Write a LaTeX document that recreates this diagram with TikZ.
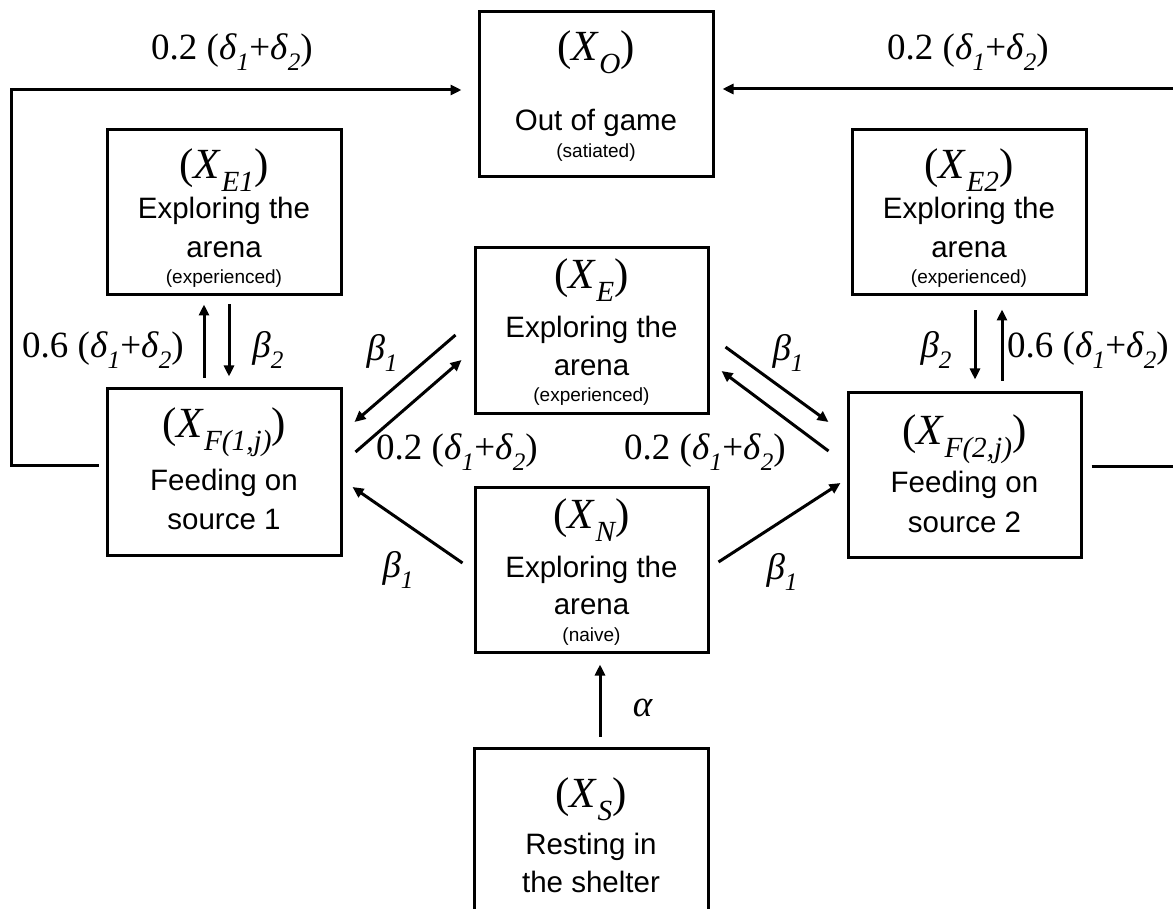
\documentclass[tikz,border=0pt]{standalone}
\usepackage{fontspec}
\setmainfont{Liberation Serif}
\setsansfont{Liberation Sans}
\usetikzlibrary{arrows.meta}
\newcommand{\lowsub}[1]{\raisebox{-0.3em}{\scalebox{0.68}{\itshape #1}}}
\newcommand{\rate}[1]{#1 (\textit{δ}\lowsub{1}+\textit{δ}\lowsub{2})}
\newcommand{\stname}[1]{(\textit{X}\lowsub{#1})}
\tikzset{
  box/.style={draw, line width=3pt, inner sep=0pt, minimum width=234pt, minimum height=165pt},
  arr/.style={line width=3pt, -{Triangle[length=11pt,width=10pt]}},
  lab/.style={font=\fontsize{37}{39}\selectfont, inner sep=0pt},
  stl/.style={font=\fontsize{43}{45}\selectfont, inner sep=0pt},
  big/.style={font=\sffamily\fontsize{29.5}{32}\selectfont, inner sep=0pt},
  small/.style={font=\sffamily\fontsize{19}{21}\selectfont, inner sep=0pt}
}
\begin{document}
\begin{tikzpicture}[x=1pt,y=-1pt]
\path[use as bounding box] (0,0) rectangle (1173,909);
\clip (0,0) rectangle (1173,909);
% boxes
\node[box] (O) at (596,94.5) {};
\node[box] (E1) at (224,212.5) {};
\node[box] (E2) at (969,212.5) {};
\node[box, minimum width=233pt] (E) at (591.5,330.5) {};
\node[box, minimum height=167pt] (F1) at (224,471.5) {};
\node[box, minimum width=233pt] (F2) at (964.5,474.5) {};
\node[box, minimum width=233pt] (N) at (591.5,569.5) {};
\node[box, minimum height=170pt] (S) at (591,833) {};
% box texts
\node[stl] (tO1) at (596,52) {\stname{O}};
\node[big] (tO2) at (596,123) {Out of game};
\node[small] (tO3) at (596,153) {(satiated)};
\node[stl] (tE11) at (224,170) {\stname{E1}};
\node[big] (tE12) at (224,211) {Exploring the};
\node[big] (tE13) at (224,250) {arena};
\node[small] (tE14) at (224,279) {(experienced)};
\node[stl] (tE21) at (969,170) {\stname{E2}};
\node[big] (tE22) at (969,211) {Exploring the};
\node[big] (tE23) at (969,250) {arena};
\node[small] (tE24) at (969,279) {(experienced)};
\node[stl] (tE1) at (591.5,280) {\stname{E}};
\node[big] (tE2) at (591.5,330) {Exploring the};
\node[big] (tE3) at (591.5,368) {arena};
\node[small] (tE4) at (591.5,397) {(experienced)};
\node[stl] (tF11) at (224,432) {\stname{F(1,j)}};
\node[big] (tF12) at (224,483) {Feeding on};
\node[big] (tF13) at (224,519) {source 1};
\node[stl] (tF21) at (964.5,439) {\stname{F(2,j)}};
\node[big] (tF22) at (964.5,485) {Feeding on};
\node[big] (tF23) at (964.5,522) {source 2};
\node[stl] (tN1) at (591.5,520) {\stname{N}};
\node[big] (tN2) at (591.5,570) {Exploring the};
\node[big] (tN3) at (591.5,607) {arena};
\node[small] (tN4) at (591.5,637) {(naive)};
\node[stl] (tS1) at (591,799) {\stname{S}};
\node[big] (tS2) at (591,847) {Resting in};
\node[big] (tS3) at (591,882) {the shelter};
% connectors
\draw[arr] ([shift={(-18,4.5)}]E.west) -- ([shift={(12,-49.5)}]F1.east);
\draw[arr] ([shift={(13,-19.5)}]F1.east) -- ([shift={(-12,29.5)}]E.west);
\draw[arr] ([shift={(16,16.5)}]E.east) -- ([shift={(-18,-52.5)}]F2.west);
\draw[arr] ([shift={(-18,-23.5)}]F2.west) -- ([shift={(12,40.5)}]E.east);
\draw[arr] ([shift={(-11,-6.5)}]N.west) -- ([shift={(10,15.5)}]F1.east);
\draw[arr] ([shift={(9,-7.5)}]N.east) -- ([shift={(-6,8.5)}]F2.west);
\draw[arr] ([shift={(9,-10)}]S.north) -- ([shift={(8.5,11)}]N.south);
\draw[arr] ([shift={(-20,-9)}]F1.north) -- ([shift={(-20,8)}]E1.south);
\draw[arr] ([shift={(5,8)}]E1.south) -- ([shift={(5,-10)}]F1.north);
\draw[arr] ([shift={(6,14)}]E2.south) -- ([shift={(10.5,-11)}]F2.north);
\draw[arr] ([shift={(37.5,-10)}]F2.north) -- ([shift={(33,13)}]E2.south);
\coordinate (LL) at (11,90);
\coordinate (RR) at (1190,89);
\draw[arr] ([shift={(-7,-6.5)}]F1.west) -| (LL) -- ([shift={(-16,-4.5)}]O.west);
\draw[arr] ([shift={(9,-8.5)}]F2.east) -| (RR) -- ([shift={(8,-5.5)}]O.east);
% labels
\node[lab] (l1) at (232,52) {\rate{0.2}};
\node[lab] (l2) at (968,52) {\rate{0.2}};
\node[lab] (l3) at (103,350) {\rate{0.6}};
\node[lab] (l4) at (268,350) {\textit{β}\lowsub{2}};
\node[lab] (l5) at (936,350) {\textit{β}\lowsub{2}};
\node[lab] (l6) at (1088,350) {\rate{0.6}};
\node[lab] (l7) at (382,353) {\textit{β}\lowsub{1}};
\node[lab] (l8) at (457,452) {\rate{0.2}};
\node[lab] (l9) at (705,452) {\rate{0.2}};
\node[lab] (l10) at (788,353) {\textit{β}\lowsub{1}};
\node[lab] (l11) at (398,570) {\textit{β}\lowsub{1}};
\node[lab] (l12) at (782,572) {\textit{β}\lowsub{1}};
\node[lab] (l13) at (643,708) {\textit{α}};
\end{tikzpicture}
\end{document}
